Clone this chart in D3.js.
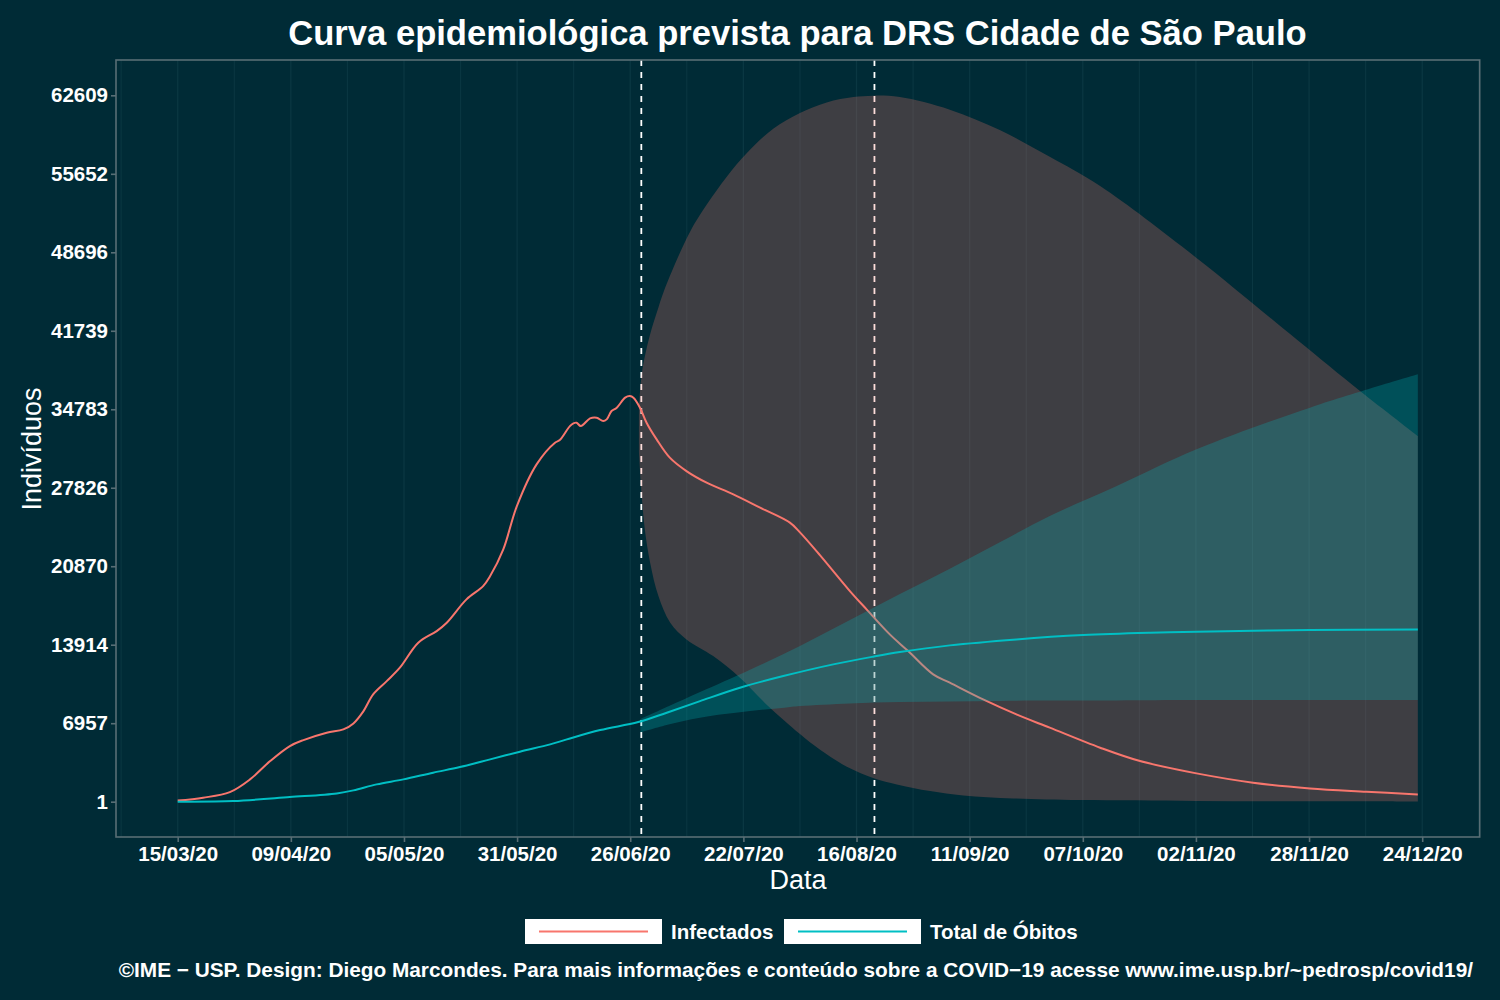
<!DOCTYPE html>
<html><head><meta charset="utf-8">
<script src="https://cdn.jsdelivr.net/npm/d3@7"></script>
<style>
body{margin:0;background:#002b36;}
svg{display:block;font-family:"Liberation Sans",Arial,Helvetica,sans-serif;}
</style>
</head><body>
<svg id="chart" width="1500" height="1000"></svg>
<script>
// ---------------- DATA (days after 15/03/2020) ----------------
const infectedDays = [0,5.8,11.9,16.5,21.1,25.6,28.7,34,37.8,40.1,42.4,44.6,47.7,50.7,54.9,59.1,61.4,65.9,69.7,71.3,74.3,77.4,81.9,86.1,87.2,89.5,90.3,91,92,94.1,95.6,97.1,97.9,99,100.2,102.1,103.2,104,105.5,107,109.3,112.3,116.1,120.7,126.8,132.9,139.7,142,146.6,153.4,157.2,162.5,166.7,172.4,176.2,183.8,191.4,199,210.5,219.6,232.5,245.4,258.4,271.3,283];
const infectedValues = [100,355,850,1977,3600,4930,5460,6116,6409,6940,8031,9511,10690,11878,14094,15122,15867,17932,19111,19997,22364,26200,29898,31822,32052,33293,33532,33594,33293,33976,34038,33737,33888,34623,34924,35811,35952,35811,34924,33594,32114,30492,29304,28276,27239,26061,24731,23871,21833,18668,17046,14829,13349,11284,10548,9068,7738,6559,4786,3599,2509,1684,1179,886,647];

const deathsDays = [0,12.7,25.6,36.3,40.1,45.4,51.5,58.3,64.4,71.3,78.1,85,88.8,96.4,105.1,111.6,119.2,128.3,138.2,149.6,158.7,164.8,176.2,191.4,206.6,221.9,232.5,258.4,283];
const deathsValues = [1,54,408,736,1002,1534,1977,2571,3067,3750,4432,5079,5522,6347,7056,7889,8917,10105,11133,12170,12853,13261,13855,14386,14768,14980,15069,15211,15273];

const infectedUpperDays   = [105.25,105.9,106.6,107.8,109.7,111.6,116.9,120.7,125.3,129.9,135.9,142,148.1,154.2,158.7,164.8,176.2,187.6,199,210.5,232.5,255.3,269.8,283];
const infectedUpperValues = [35000,37900,39470,41420,43800,45900,50500,52900,55400,57500,59650,61050,61980,62450,62580,62456,61340,59530,57170,54569,48200,40980,36396,32407];
const infectedLowerDays   = [105.25,105.9,106.6,107.8,109.7,112.4,116.1,122.2,128.3,134.4,138.4,142,146.6,152.7,159,164.1,171.7,179.3,190.7,205.9,232.5,258,283];
const infectedLowerValues = [31000,27088,24136,21211,18224,15866,14386,12906,10991,8600,7200,6000,4600,3100,2066,1534,940,558,293,142,72,40,27];

const deathsUpperDays   = [105.6,112,119.2,130.6,142,153.4,164.8,176.2,187.6,199,214.3,232.5,258.4,283];
const deathsUpperValues = [7322,8450,9715,11700,13800,16100,18400,20650,22990,25316,27975,31228,34924,37876];
const deathsLowerDays   = [105.6,112,119.2,130.6,138.4,142,153.4,164.8,176.2,187.6,199,214.3,232.5,258.4,283];
const deathsLowerValues = [6143,6850,7446,8031,8332,8475,8714,8829,8890,8935,8960,8979,9006,9018,9024];

const markerDays = [105.8, 159];

const yTickValues = [1,6957,13914,20870,27826,34783,41739,48696,55652,62609];
const xTickDays   = [0,25.82,51.64,77.45,103.27,129.09,154.91,180.73,206.55,232.36,258.18,284];
const xTickLabels = ["15/03/20","09/04/20","05/05/20","31/05/20","26/06/20","22/07/20","16/08/20","11/09/20","07/10/20","02/11/20","28/11/20","24/12/20"];
const xMinorDays  = [-12.91,12.91,38.73,64.55,90.36,116.18,142,167.82,193.64,219.45,245.27,271.09,296.91];

const seriesNames  = ["Infectados","Total de Óbitos"];
const seriesColors = ["#F8766D","#00BFC4"];

const titleText = "Curva epidemiológica prevista para DRS Cidade de São Paulo";
const captionText = "©IME − USP. Design: Diego Marcondes. Para mais informações e conteúdo sobre a COVID−19 acesse www.ime.usp.br/~pedrosp/covid19/";

// ---------------- LAYOUT ----------------
const W = 1500, H = 1000;
const P = {left:116, right:1479.7, top:60, bottom:837};
const BG = "#002b36", GRID = "#0a3742", FRAME = "#586e75";

const start = Date.UTC(2020,2,15);
const DAY = 86400000;
const toDate = d => new Date(start + d*DAY);

const x = d3.scaleUtc().domain([toDate(-14.08), toDate(297.12)]).range([P.left, P.right]);
const y = d3.scaleLinear().domain([1-3130.4, 62609+3130.4]).range([P.bottom, P.top]);

const svg = d3.select("#chart");
svg.append("rect").attr("width",W).attr("height",H).attr("fill",BG);

svg.append("defs").append("clipPath").attr("id","clip")
  .append("rect").attr("x",P.left).attr("y",P.top).attr("width",P.right-P.left).attr("height",P.bottom-P.top);

const panel = svg.append("g").attr("clip-path","url(#clip)");

// grid (vertical only)
panel.selectAll("line.minor").data(xMinorDays).join("line")
  .attr("x1",d=>x(toDate(d))).attr("x2",d=>x(toDate(d)))
  .attr("y1",P.top).attr("y2",P.bottom)
  .attr("stroke",GRID).attr("stroke-width",1.1);
panel.selectAll("line.major").data(xTickDays).join("line")
  .attr("x1",d=>x(toDate(d))).attr("x2",d=>x(toDate(d)))
  .attr("y1",P.top).attr("y2",P.bottom)
  .attr("stroke",GRID).attr("stroke-width",1.3);

// dashed markers
panel.selectAll("line.marker").data(markerDays).join("line")
  .attr("x1",d=>x(toDate(d))).attr("x2",d=>x(toDate(d)))
  .attr("y1",P.top).attr("y2",P.bottom)
  .attr("stroke","#ffffff").attr("stroke-width",1.8).attr("stroke-dasharray","6,6");

const zip2 = (a,b) => a.map((d,i)=>({d:d, v:b[i]}));
const curve = d3.curveCatmullRom.alpha(0.5);
const line = d3.line().curve(curve).x(p=>x(toDate(p.d))).y(p=>y(p.v));

// ribbon = smooth upper edge, then smooth lower edge walked backwards
function ribbon(upD, upV, loD, loV){
  const up = line(zip2(upD, upV));
  const lo = line(zip2(loD, loV).reverse());
  return up + "L" + lo.slice(1) + "Z";
}

// Infectados ribbon + line
panel.append("path")
  .attr("d",ribbon(infectedUpperDays,infectedUpperValues,infectedLowerDays,infectedLowerValues))
  .attr("fill",seriesColors[0]).attr("fill-opacity",0.25);
panel.append("path").datum(zip2(infectedDays,infectedValues))
  .attr("d",line).attr("fill","none").attr("stroke",seriesColors[0]).attr("stroke-width",2);

// Óbitos ribbon + line
panel.append("path")
  .attr("d",ribbon(deathsUpperDays,deathsUpperValues,deathsLowerDays,deathsLowerValues))
  .attr("fill",seriesColors[1]).attr("fill-opacity",0.25);
panel.append("path").datum(zip2(deathsDays,deathsValues))
  .attr("d",line).attr("fill","none").attr("stroke",seriesColors[1]).attr("stroke-width",2);

// frame
svg.append("rect").attr("x",P.left).attr("y",P.top).attr("width",P.right-P.left).attr("height",P.bottom-P.top)
  .attr("fill","none").attr("stroke",FRAME).attr("stroke-width",1.6);

// axes
const yAxis = svg.append("g").attr("transform",`translate(${P.left},0)`)
  .call(d3.axisLeft(y).tickValues(yTickValues).tickFormat(d=>String(d)).tickSize(5).tickPadding(3));
const xAxis = svg.append("g").attr("transform",`translate(0,${P.bottom})`)
  .call(d3.axisBottom(x).tickValues(xTickDays.map(toDate)).tickFormat((d,i)=>xTickLabels[i]).tickSize(5).tickPadding(4));
[yAxis,xAxis].forEach(g=>{
  g.select(".domain").remove();
  g.selectAll(".tick line").attr("stroke",FRAME).attr("stroke-width",1.6);
  g.selectAll(".tick text").attr("fill","#ffffff").attr("font-weight","bold").attr("font-size",20.5)
    .attr("font-family",'"Liberation Sans",Arial,sans-serif');
});

// title
svg.append("text").attr("x",797.5).attr("y",45).attr("text-anchor","middle")
  .attr("fill","#ffffff").attr("font-weight","bold").attr("font-size",34.6).text(titleText);

// axis titles
svg.append("text").attr("x",798).attr("y",889).attr("text-anchor","middle")
  .attr("fill","#ffffff").attr("font-size",27).text("Data");
svg.append("text").attr("transform","translate(41,449) rotate(-90)").attr("text-anchor","middle")
  .attr("fill","#ffffff").attr("font-size",27).text("Indivíduos");

// legend
const legend = svg.append("g");
const legX = [525, 784];
seriesNames.forEach((name,i)=>{
  const g = legend.append("g").attr("transform",`translate(${legX[i]},919)`);
  g.append("rect").attr("width",137).attr("height",25).attr("fill","#ffffff");
  g.append("line").attr("x1",14).attr("x2",123).attr("y1",12.5).attr("y2",12.5)
    .attr("stroke",seriesColors[i]).attr("stroke-width",2);
  g.append("text").attr("x",146).attr("y",20).attr("fill","#ffffff")
    .attr("font-weight","bold").attr("font-size",20.5).text(name);
});

// caption
svg.append("text").attr("x",1473).attr("y",977).attr("text-anchor","end")
  .attr("fill","#ffffff").attr("font-weight","bold").attr("font-size",20.8).text(captionText);
</script>
</body></html>
